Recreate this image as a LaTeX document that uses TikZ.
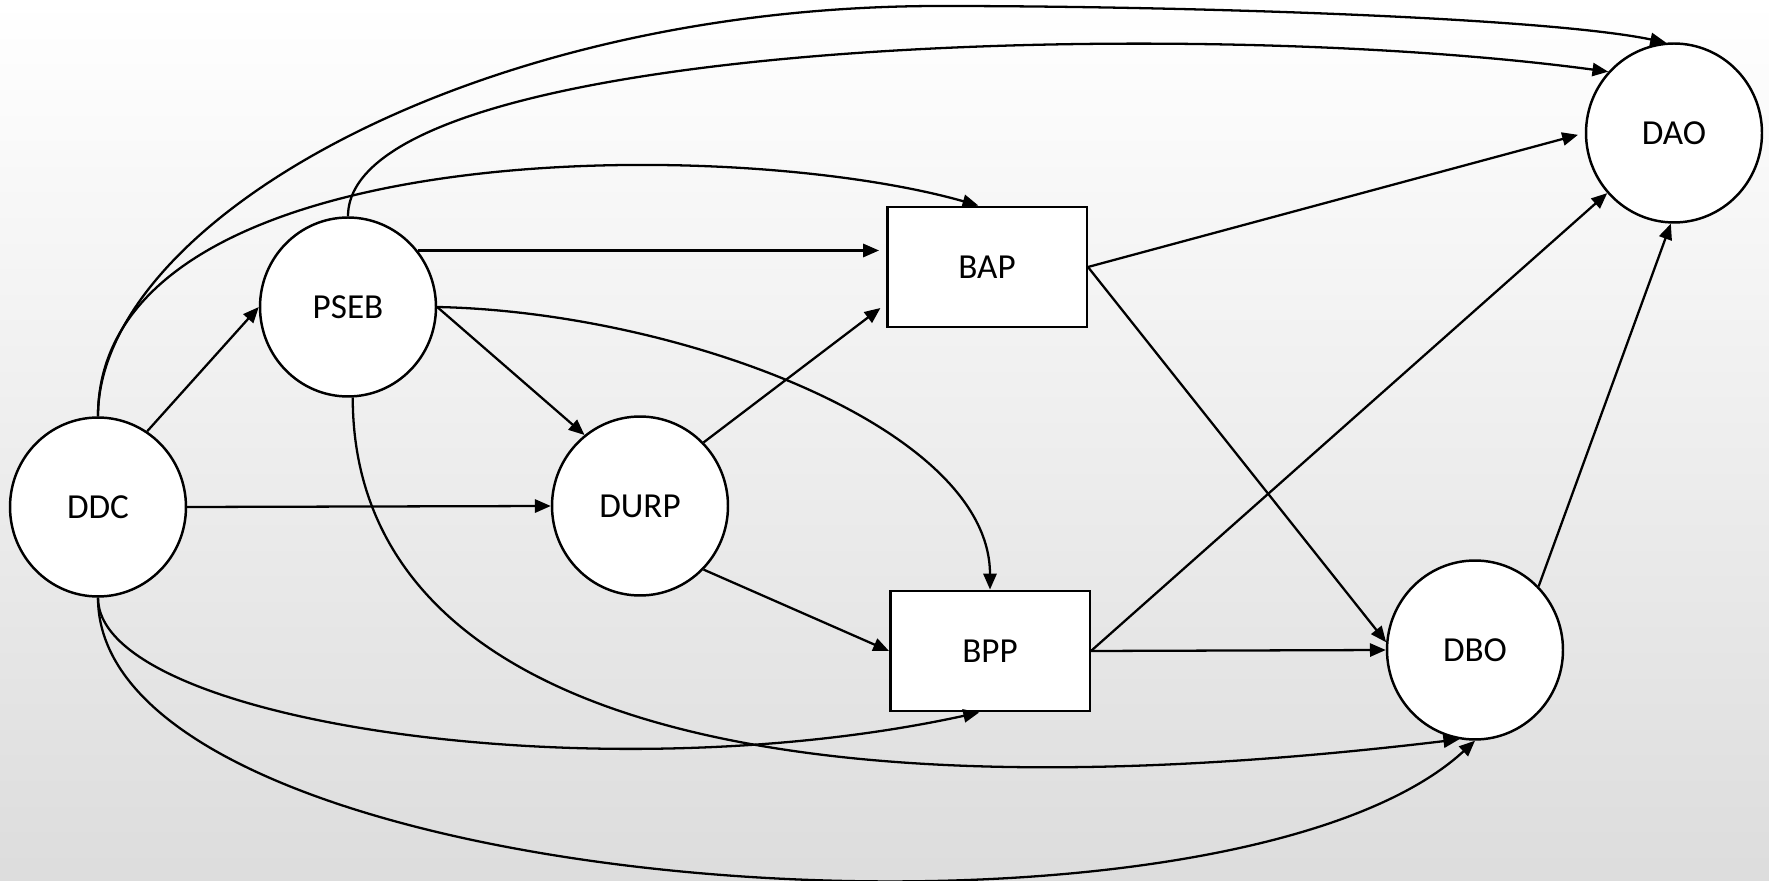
\documentclass[tikz,border=0pt]{standalone}
\usepackage{fontspec}
\setmainfont{Carlito}
\usetikzlibrary{arrows.meta,shapes.geometric}

\begin{document}
\begin{tikzpicture}[x=0.02cm, y=-0.02cm,
    varnode/.style={ellipse, draw, line width=1.4pt, fill=white, inner sep=0pt,
      minimum width=3.52cm, minimum height=3.58cm, font=\fontsize{20}{24}\selectfont},
    boxnode/.style={rectangle, draw, line width=1.4pt, fill=white, inner sep=0pt,
      minimum width=3.99cm, minimum height=2.41cm, font=\fontsize{20}{24}\selectfont},
    flow/.style={-{Triangle[length=9pt,width=7.5pt]}, line width=1.3pt},
    gap/.style={shorten >=4pt}]
  \useasboundingbox (0,0) rectangle (1769,881);
  \shade[top color=white, middle color=gray!5, bottom color=gray!27] (0,0) rectangle (1769,881);

  \node[varnode] (ddc) at (98,507) {DDC};
  \node[varnode] (pseb) at (348,307) {PSEB};
  \node[varnode] (durp) at (640,506) {DURP};
  \node[boxnode] (bap) at (987,267) {BAP};
  \node[boxnode] (bpp) at (990,651) {BPP};
  \node[varnode] (dao) at (1674,133) {DAO};
  \node[varnode] (dbo) at (1475,650) {DBO};
  \coordinate (arcpeak) at (940,6);

  % straight links
  \draw[flow] (ddc.57) -- (pseb.west);
  \draw[flow] (ddc.east) -- (durp.west);
  \draw[flow, gap] (pseb.39) -- (pseb.39 -| bap.west);
  \draw[flow] (pseb.east) -- (durp.128);
  \draw[flow, gap] (durp.45) -- (bap.200);
  \draw[flow] (durp.-45) -- (bpp.west);
  \draw[flow, gap] (bap.east) -- (dao.west);
  \draw[flow] (bap.east) -- (dbo.175);
  \draw[flow] (bpp.east) -- (dao.222);
  \draw[flow] (bpp.east) -- (dbo.west);
  \draw[flow] (dbo.45) -- (dao.-92);

  % curved links
  \draw[flow] (ddc.north) .. controls +(0,-192) and +(-470,0) .. (arcpeak)
    .. controls +(250,0) and +(-120,-25) .. (dao.95);
  \draw[flow] (ddc.north) .. controls +(0,-281) and +(-250,-71) .. (bap.98);
  \draw[flow] (pseb.north) .. controls +(0,-177) and +(-423,-57) .. (dao.137);
  \draw[flow] (pseb.east) .. controls +(241,5) and +(0,-162) .. (bpp.north);
  \draw[flow] (pseb.-87) .. controls +(0,276) and +(-786,94) .. (dbo.260);
  \draw[flow] (ddc.south) .. controls +(0,124) and +(-380,83) .. (bpp.-100);
  \draw[flow] (ddc.south) .. controls +(0,303) and +(-255,235) .. (dbo.south);
\end{tikzpicture}
\end{document}
